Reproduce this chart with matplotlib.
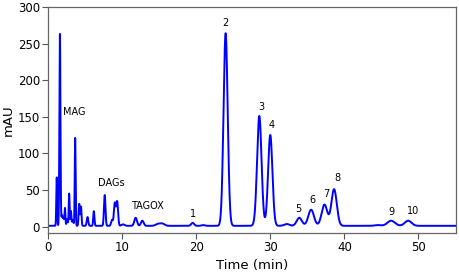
import numpy as np
import matplotlib
matplotlib.use("Agg")
import matplotlib.pyplot as plt

# Peak table (retention time min, height mAU, sigma min)
peak_times = [1.14, 1.57, 1.85, 2.05, 2.25, 2.55, 2.82, 3.05, 3.3, 3.63, 4.18, 4.42, 5.3, 6.15,
              7.62, 8.6, 8.98, 9.3, 10.1, 11.8, 12.7, 14.8, 15.4, 19.5, 20.9,
              23.95, 28.5, 29.98, 32.2, 33.9, 35.5, 37.3, 38.6, 44.5, 46.3, 48.6]
peak_heights = [66, 262, 14, 10, 24, 9, 44, 20, 8, 120, 30, 26, 12, 20,
                42, 8, 31, 33, 2, 11, 7, 2.5, 3, 4, 1,
                263, 150, 124, 2.5, 11, 22, 29, 50, 1, 7, 7]
peak_widths = [0.06, 0.07, 0.08, 0.08, 0.06, 0.08, 0.06, 0.06, 0.1, 0.06, 0.08, 0.07, 0.1, 0.08,
               0.1, 0.12, 0.12, 0.12, 0.2, 0.18, 0.18, 0.3, 0.3, 0.2, 0.2,
               0.28, 0.3, 0.29, 0.35, 0.35, 0.38, 0.38, 0.36, 0.4, 0.5, 0.45]
baseline_level = 1.2

labels = ["MAG", "DAGs", "TAGOX", "1", "2", "3", "4", "5", "6", "7", "8", "9", "10"]
label_x = [3.5, 8.46, 13.4, 19.5, 23.95, 28.8, 30.2, 33.8, 35.7, 37.5, 39.1, 46.4, 49.3]
label_y = [157, 60, 28, 18, 278, 164, 139, 24, 36.5, 45, 67, 20.5, 22]

t = np.linspace(0, 55, 5501)
signal = np.full_like(t, baseline_level)
for rt, h, s in zip(peak_times, peak_heights, peak_widths):
    signal += h * np.exp(-0.5 * ((t - rt) / s) ** 2)

fig = plt.figure(figsize=(4.59, 2.80), dpi=100)
ax = fig.add_axes([48.3 / 459, 1 - 233 / 280, (455.5 - 48.3) / 459, (233 - 7) / 280])
ax.plot(t, signal, color="#0000ff", lw=1.4)
ax.set_xlim(0, 55)
ax.set_ylim(-8.6, 300)
ax.set_xticks([0, 10, 20, 30, 40, 50])
ax.set_yticks([0, 50, 100, 150, 200, 250, 300])
ax.tick_params(axis="both", direction="out", length=4, width=0.8, labelsize=8.5,
               colors="#555555", labelcolor="black", top=False, right=False, pad=2)
for sp in ax.spines.values():
    sp.set_color("#666666")
    sp.set_linewidth(0.9)
ax.set_xlabel("Time (min)", fontsize=9.5, labelpad=3)
ax.set_ylabel("mAU", fontsize=9.5, labelpad=2)

for lab, x, y in zip(labels, label_x, label_y):
    ax.text(x, y, lab, fontsize=7, ha="center", va="center", color="black")

fig.savefig("out.png", dpi=100)
